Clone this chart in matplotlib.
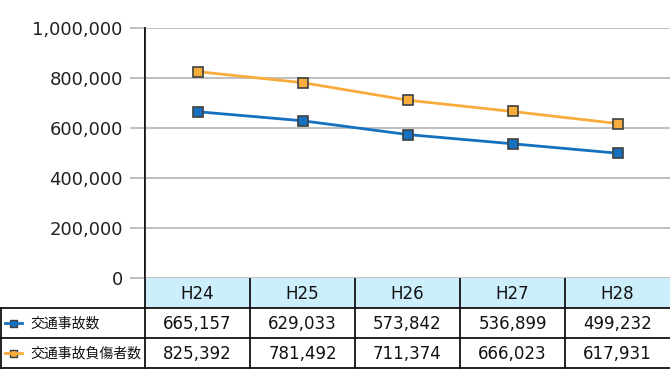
import numpy as np
from matplotlib import pyplot as plt
from matplotlib.patches import Rectangle

plt.rcParams['font.family'] = ['DejaVu Sans', 'Noto Sans CJK JP']

years = ['H24', 'H25', 'H26', 'H27', 'H28']
accidents = [665157, 629033, 573842, 536899, 499232]
injured = [825392, 781492, 711374, 666023, 617931]
series_names = ['交通事故数', '交通事故負傷者数']
colors = ['#1570c0', '#f8ac3c']

W, H = 670, 380
fig = plt.figure(figsize=(6.7, 3.8), dpi=100)

# chart area in pixels
x0, x1 = 145, 670
y_top, y_zero = 28, 278
ax = fig.add_axes([x0 / W, 1 - y_zero / H, (x1 - x0) / W, (y_zero - y_top) / H])
ax.set_xlim(0, len(years))
ax.set_ylim(0, 1000000)

x = np.arange(len(years)) + 0.5
for vals, c in zip([accidents, injured], colors):
    ax.plot(x, vals, color=c, lw=2, marker='s', ms=7.5, mfc=c, mec='#404040', mew=1.2, zorder=3)

ax.set_yticks(np.arange(0, 1000001, 200000))
ax.set_yticklabels([f'{v:,}' for v in range(0, 1000001, 200000)], fontsize=13, color='#222222')
ax.yaxis.grid(True, color='#b4b4b4', lw=1.2)
ax.tick_params(axis='y', length=11, width=1.2, color='#b4b4b4', pad=5)
ax.set_xticks([])
for s in ['top', 'right', 'bottom']:
    ax.spines[s].set_visible(False)
ax.spines['left'].set_color('#111111')
ax.spines['left'].set_linewidth(1.2)

# table drawn in pixel coordinates
tab = fig.add_axes([0, 0, 1, 1], zorder=-1)
tab.set_xlim(0, W)
tab.set_ylim(H, 0)
tab.axis('off')

col_w = (x1 - x0) / len(years)
row_h = 30
hdr_top = y_zero
rows_y = [hdr_top, hdr_top + row_h, hdr_top + 2 * row_h, hdr_top + 3 * row_h]

tab.add_patch(Rectangle((x0, hdr_top), x1 - x0, row_h, facecolor='#cdeefb', edgecolor='none'))
for i, yr in enumerate(years):
    tab.text(x0 + col_w * (i + 0.5), hdr_top + row_h / 2 + 1, yr, ha='center', va='center',
             fontsize=12, color='#111111')

lc = '#111111'
# horizontal lines
for yy in rows_y[1:]:
    tab.plot([0, W], [yy, yy], color=lc, lw=1.3)
# vertical lines
tab.plot([0.7, 0.7], [rows_y[1], rows_y[3]], color=lc, lw=1.3)
for i in range(len(years)):
    xx = x0 + col_w * i
    top = y_top if i == 0 else y_zero - 8
    tab.plot([xx, xx], [top, rows_y[3]], color=lc, lw=1.3)

for r, (name, vals, c) in enumerate(zip(series_names, [accidents, injured], colors)):
    yc = rows_y[r + 1] + row_h / 2
    tab.plot([5, 22], [yc, yc], color=c, lw=2)
    tab.add_patch(Rectangle((9.5, yc - 3.5), 7, 7, facecolor=c, edgecolor='#404040', lw=1))
    tab.text(30, yc, name, ha='left', va='center', fontsize=10, color='#111111')
    for i, v in enumerate(vals):
        tab.text(x0 + col_w * (i + 0.5), yc + 1, f'{v:,}', ha='center', va='center',
                 fontsize=12, color='#111111')

fig.savefig('out.png', dpi=100)
